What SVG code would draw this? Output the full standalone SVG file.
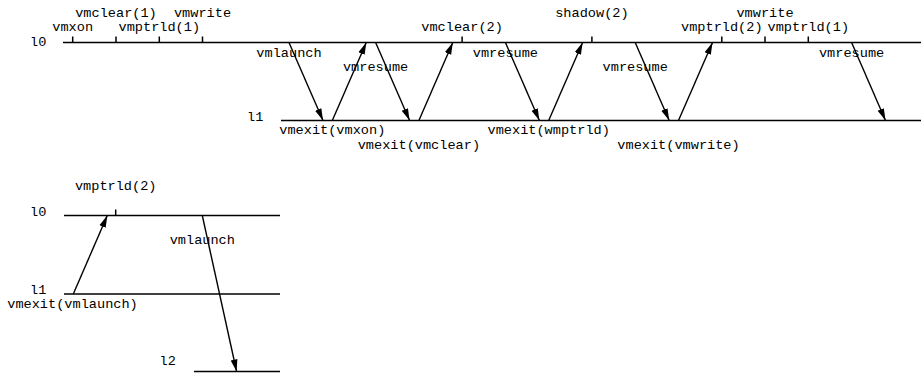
<svg xmlns="http://www.w3.org/2000/svg" width="922" height="377" viewBox="0 0 922 377">
<defs>
<marker id="ah" viewBox="0 0 12 8" refX="12" refY="4" markerWidth="12" markerHeight="8" markerUnits="userSpaceOnUse" orient="auto">
<path d="M0,0.6 L12,4 L0,7.4 z" fill="#000"/>
</marker>
<style>
text{font-family:"Liberation Mono","Courier New",monospace;font-size:13.6px;fill:#000}
.m{text-anchor:middle}
.lvl{stroke:#000;stroke-width:1.6;fill:none}
.tick{stroke:#000;stroke-width:1.5}
.arr{stroke:#000;stroke-width:1.4;fill:none;marker-end:url(#ah)}
</style>
</defs>
<rect width="922" height="377" fill="#fff"/>
<!-- top diagram -->
<g id="top-l0">
<line class="lvl" x1="63" y1="42.5" x2="921" y2="42.5"/>
<text x="30" y="46">l0</text>
<path class="tick" d="M72.7,36.5V42.5M116,36.5V42.5M159.3,36.5V42.5M202.5,36.5V42.5M462.1,36.5V42.5M591.9,36.5V42.5M721.8,36.5V42.5M765,36.5V42.5M808.3,36.5V42.5"/>
<text class="m" x="72.7" y="31">vmxon</text>
<text class="m" x="116" y="16.5">vmclear(1)</text>
<text class="m" x="159.3" y="31">vmptrld(1)</text>
<text class="m" x="202.5" y="16.5">vmwrite</text>
<text class="m" x="462.1" y="31">vmclear(2)</text>
<text class="m" x="591.9" y="16.5">shadow(2)</text>
<text class="m" x="721.8" y="31">vmptrld(2)</text>
<text class="m" x="765" y="16.5">vmwrite</text>
<text class="m" x="808.3" y="31">vmptrld(1)</text>
</g>
<g id="top-l1">
<line class="lvl" x1="281" y1="120.5" x2="921" y2="120.5"/>
<text x="247" y="121">l1</text>
</g>
<g id="bottom-l0">
<line class="lvl" x1="64" y1="215.5" x2="280" y2="215.5"/>
<text x="30" y="216">l0</text>
<path class="tick" d="M115.7,209.5V215.5"/>
<text class="m" x="115.7" y="189.5">vmptrld(2)</text>
</g>
<g id="bottom-l1">
<line class="lvl" x1="64" y1="294" x2="280" y2="294"/>
<text x="30" y="294">l1</text>
</g>
<g id="bottom-l2">
<line class="lvl" x1="194" y1="371.5" x2="280" y2="371.5"/>
<text x="159.5" y="365">l2</text>
</g>
<g id="connectors">
<line class="arr" x1="289" y1="42.5" x2="323" y2="120.5"/>
<line class="arr" x1="375.6" y1="42.5" x2="409.6" y2="120.5"/>
<line class="arr" x1="505.4" y1="42.5" x2="539.4" y2="120.5"/>
<line class="arr" x1="635.2" y1="42.5" x2="669.2" y2="120.5"/>
<line class="arr" x1="851.6" y1="42.5" x2="885.5" y2="120.5"/>
<line class="arr" x1="332.3" y1="120.5" x2="366.3" y2="42.5"/>
<line class="arr" x1="418.9" y1="120.5" x2="452.8" y2="42.5"/>
<line class="arr" x1="548.7" y1="120.5" x2="582.6" y2="42.5"/>
<line class="arr" x1="678.5" y1="120.5" x2="712.5" y2="42.5"/>
<line class="arr" x1="73.3" y1="294" x2="107.3" y2="215.5"/>
<line class="arr" x1="202.3" y1="215.5" x2="236.6" y2="371.5"/>
<text class="m" x="289" y="57">vmlaunch</text>
<text class="m" x="375.6" y="71">vmresume</text>
<text class="m" x="505.4" y="57">vmresume</text>
<text class="m" x="635.2" y="71">vmresume</text>
<text class="m" x="851.6" y="57">vmresume</text>
<text class="m" x="332.3" y="134">vmexit(vmxon)</text>
<text class="m" x="418.9" y="148.5">vmexit(vmclear)</text>
<text class="m" x="548.7" y="134">vmexit(wmptrld)</text>
<text class="m" x="678.5" y="148.5">vmexit(vmwrite)</text>
<text class="m" x="72.5" y="307.5">vmexit(vmlaunch)</text>
<text class="m" x="202.3" y="244">vmlaunch</text>
</g>
</svg>
